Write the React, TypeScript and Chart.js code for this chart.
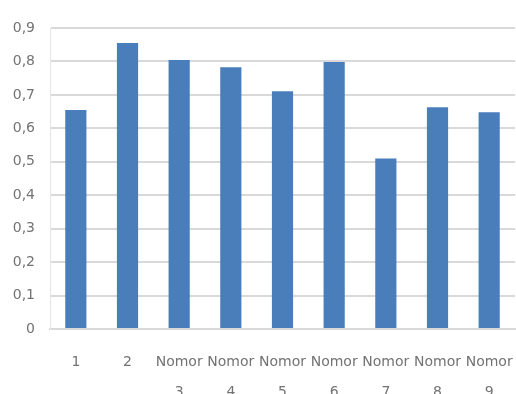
import React, { useEffect, useRef } from "react";
import { Chart, registerables } from "chart.js";

Chart.register(...registerables);

const categories: (string | string[])[] = [
  "1",
  "2",
  ["Nomor", "3"],
  ["Nomor", "4"],
  ["Nomor", "5"],
  ["Nomor", "6"],
  ["Nomor", "7"],
  ["Nomor", "8"],
  ["Nomor", "9"],
];
const values: number[] = [0.655, 0.855, 0.804, 0.783, 0.711, 0.798, 0.51, 0.663, 0.648];
const yTicks: number[] = [0, 0.1, 0.2, 0.3, 0.4, 0.5, 0.6, 0.7, 0.8, 0.9];

export default function App() {
  const ref = useRef<HTMLCanvasElement | null>(null);
  useEffect(() => {
    document.body.style.margin = "0";
    if (!ref.current) return;
    const chart = new Chart(ref.current, {
      type: "bar",
      data: {
        labels: categories,
        datasets: [
          {
            data: values,
            backgroundColor: "#4a7ebb",
            barPercentage: 0.82,
            categoryPercentage: 0.5,
          },
        ],
      },
      options: {
        animation: false,
        responsive: false,
        layout: { padding: { top: 28, right: 1, bottom: 0, left: 0 } },
        plugins: { legend: { display: false }, tooltip: { enabled: false } },
        scales: {
          x: {
            grid: { display: false, drawTicks: false },
            border: { display: true, color: "#d9d9d9", width: 2 },
            ticks: {
              color: "#737373",
              font: { family: "DejaVu Sans", size: 14, lineHeight: 2.15 },
              padding: 18,
              maxRotation: 0,
              autoSkip: false,
            },
            afterFit: (s: any) => {
              s.height = 65;
              s.paddingLeft = 0;
              s.paddingRight = 0;
            },
          },
          y: {
            min: 0,
            max: 0.9,
            afterBuildTicks: (s: any) => {
              s.ticks = yTicks.map((v) => ({ value: v }));
            },
            grid: { color: "#d9d9d9", lineWidth: 2, drawTicks: false },
            border: { display: true, color: "#e6e6e6", width: 1 },
            ticks: {
              color: "#737373",
              font: { family: "DejaVu Sans", size: 14 },
              padding: 15,
              callback: (v: any) => String(Math.round(Number(v) * 10) / 10).replace(".", ","),
            },
            afterFit: (s: any) => {
              s.width = 50;
              s.paddingTop = 0;
              s.paddingBottom = 0;
            },
          },
        },
      },
    });
    return () => chart.destroy();
  }, []);
  return <canvas ref={ref} width={516} height={394} style={{ display: "block" }} />;
}
